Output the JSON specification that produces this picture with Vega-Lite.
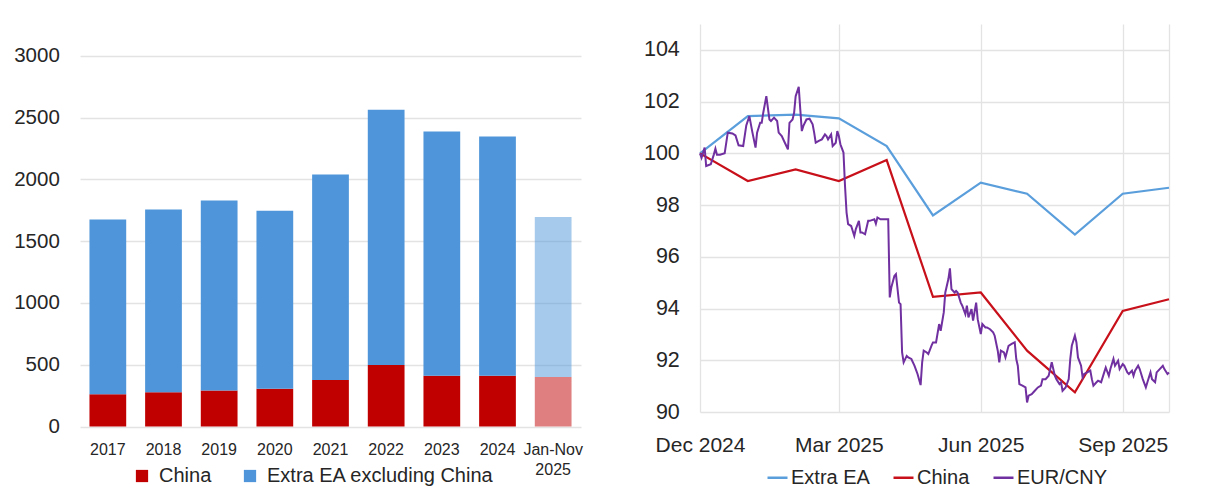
{
  "$schema": "https://vega.github.io/schema/vega-lite/v6.json",
  "background": "white",
  "padding": {"left": 13, "top": 24, "right": 0, "bottom": 0},
  "spacing": 60,
  "resolve": {"scale": {"color": "independent"}, "legend": {"color": "independent"}},
  "config": {
    "view": {"stroke": null},
    "font": "Liberation Sans",
    "axis": {
      "labelColor": "#262626",
      "domain": false,
      "ticks": false,
      "tickSize": 0,
      "gridColor": "#E3E3E3",
      "gridWidth": 1.3,
      "labelFlush": false,
      "labelOverlap": false,
      "title": null
    },
    "legend": {"padding": 0, "labelColor": "#262626", "labelLimit": 400}
  },
  "datasets": {
    "trade": [
      {"period": "2017", "segment": "China", "value": 262},
      {"period": "2017", "segment": "Extra EA excluding China", "value": 1414},
      {"period": "2018", "segment": "China", "value": 278},
      {"period": "2018", "segment": "Extra EA excluding China", "value": 1479},
      {"period": "2019", "segment": "China", "value": 292},
      {"period": "2019", "segment": "Extra EA excluding China", "value": 1538},
      {"period": "2020", "segment": "China", "value": 305},
      {"period": "2020", "segment": "Extra EA excluding China", "value": 1441},
      {"period": "2021", "segment": "China", "value": 376},
      {"period": "2021", "segment": "Extra EA excluding China", "value": 1665},
      {"period": "2022", "segment": "China", "value": 497},
      {"period": "2022", "segment": "Extra EA excluding China", "value": 2068},
      {"period": "2023", "segment": "China", "value": 411},
      {"period": "2023", "segment": "Extra EA excluding China", "value": 1978},
      {"period": "2024", "segment": "China", "value": 411},
      {"period": "2024", "segment": "Extra EA excluding China", "value": 1938},
      {"period": "Jan-Nov 2025", "segment": "China", "value": 400},
      {"period": "Jan-Nov 2025", "segment": "Extra EA excluding China", "value": 1297}
    ],
    "monthly": [
      {"d": "2024-12-01", "s": "Extra EA", "v": 100.0},
      {"d": "2025-01-01", "s": "Extra EA", "v": 101.44},
      {"d": "2025-02-01", "s": "Extra EA", "v": 101.5},
      {"d": "2025-03-01", "s": "Extra EA", "v": 101.35},
      {"d": "2025-04-01", "s": "Extra EA", "v": 100.28},
      {"d": "2025-05-01", "s": "Extra EA", "v": 97.6},
      {"d": "2025-06-01", "s": "Extra EA", "v": 98.87},
      {"d": "2025-07-01", "s": "Extra EA", "v": 98.44},
      {"d": "2025-08-01", "s": "Extra EA", "v": 96.86},
      {"d": "2025-09-01", "s": "Extra EA", "v": 98.44},
      {"d": "2025-10-01", "s": "Extra EA", "v": 98.67},
      {"d": "2024-12-01", "s": "China", "v": 100.0},
      {"d": "2025-01-01", "s": "China", "v": 98.93},
      {"d": "2025-02-01", "s": "China", "v": 99.38},
      {"d": "2025-03-01", "s": "China", "v": 98.93},
      {"d": "2025-04-01", "s": "China", "v": 99.74},
      {"d": "2025-05-01", "s": "China", "v": 94.45},
      {"d": "2025-06-01", "s": "China", "v": 94.62},
      {"d": "2025-07-01", "s": "China", "v": 92.37},
      {"d": "2025-08-01", "s": "China", "v": 90.76},
      {"d": "2025-09-01", "s": "China", "v": 93.91},
      {"d": "2025-10-01", "s": "China", "v": 94.36}
    ],
    "eurcny": [
      {"d": "2024-12-01", "v": 100.0}, {"d": "2024-12-02", "v": 99.83}, {"d": "2024-12-04", "v": 100.22},
      {"d": "2024-12-05", "v": 99.51}, {"d": "2024-12-08", "v": 99.58}, {"d": "2024-12-10", "v": 99.96},
      {"d": "2024-12-11", "v": 100.18}, {"d": "2024-12-12", "v": 99.95}, {"d": "2024-12-14", "v": 99.95},
      {"d": "2024-12-17", "v": 100.0}, {"d": "2024-12-19", "v": 100.8}, {"d": "2024-12-22", "v": 100.77},
      {"d": "2024-12-24", "v": 100.69}, {"d": "2024-12-26", "v": 100.31}, {"d": "2024-12-29", "v": 100.28},
      {"d": "2024-12-31", "v": 101.08}, {"d": "2025-01-02", "v": 101.44}, {"d": "2025-01-04", "v": 100.8},
      {"d": "2025-01-06", "v": 100.22}, {"d": "2025-01-07", "v": 100.8}, {"d": "2025-01-09", "v": 101.18},
      {"d": "2025-01-10", "v": 101.18}, {"d": "2025-01-11", "v": 101.57}, {"d": "2025-01-13", "v": 102.21},
      {"d": "2025-01-15", "v": 101.31}, {"d": "2025-01-16", "v": 101.25}, {"d": "2025-01-18", "v": 101.38},
      {"d": "2025-01-20", "v": 101.25}, {"d": "2025-01-21", "v": 100.8}, {"d": "2025-01-23", "v": 100.67},
      {"d": "2025-01-25", "v": 100.41}, {"d": "2025-01-27", "v": 100.15}, {"d": "2025-01-28", "v": 101.18},
      {"d": "2025-01-30", "v": 101.31}, {"d": "2025-01-31", "v": 101.57}, {"d": "2025-02-01", "v": 102.21},
      {"d": "2025-02-03", "v": 102.57}, {"d": "2025-02-04", "v": 101.7}, {"d": "2025-02-05", "v": 100.86},
      {"d": "2025-02-06", "v": 101.06}, {"d": "2025-02-08", "v": 101.31}, {"d": "2025-02-10", "v": 101.34},
      {"d": "2025-02-12", "v": 101.12}, {"d": "2025-02-13", "v": 100.8}, {"d": "2025-02-14", "v": 100.41},
      {"d": "2025-02-16", "v": 100.48}, {"d": "2025-02-18", "v": 100.54}, {"d": "2025-02-20", "v": 100.73},
      {"d": "2025-02-21", "v": 100.67}, {"d": "2025-02-22", "v": 100.54}, {"d": "2025-02-24", "v": 100.73},
      {"d": "2025-02-25", "v": 100.28}, {"d": "2025-02-27", "v": 100.41}, {"d": "2025-02-28", "v": 100.86},
      {"d": "2025-03-01", "v": 100.67}, {"d": "2025-03-02", "v": 100.35}, {"d": "2025-03-04", "v": 100.03},
      {"d": "2025-03-05", "v": 98.74}, {"d": "2025-03-06", "v": 97.71}, {"d": "2025-03-07", "v": 97.26},
      {"d": "2025-03-09", "v": 97.19}, {"d": "2025-03-10", "v": 97.0}, {"d": "2025-03-11", "v": 96.81},
      {"d": "2025-03-12", "v": 97.07}, {"d": "2025-03-14", "v": 97.39}, {"d": "2025-03-15", "v": 96.94},
      {"d": "2025-03-16", "v": 96.94}, {"d": "2025-03-18", "v": 96.87}, {"d": "2025-03-20", "v": 97.39},
      {"d": "2025-03-21", "v": 97.39}, {"d": "2025-03-24", "v": 97.45}, {"d": "2025-03-25", "v": 97.28},
      {"d": "2025-03-26", "v": 97.52}, {"d": "2025-03-28", "v": 97.45}, {"d": "2025-03-31", "v": 97.45},
      {"d": "2025-04-02", "v": 97.45}, {"d": "2025-04-03", "v": 94.43}, {"d": "2025-04-04", "v": 94.81},
      {"d": "2025-04-06", "v": 95.26}, {"d": "2025-04-07", "v": 95.33}, {"d": "2025-04-09", "v": 94.23},
      {"d": "2025-04-10", "v": 94.17}, {"d": "2025-04-11", "v": 92.3}, {"d": "2025-04-12", "v": 91.92},
      {"d": "2025-04-14", "v": 92.17}, {"d": "2025-04-15", "v": 92.11}, {"d": "2025-04-17", "v": 92.05},
      {"d": "2025-04-19", "v": 91.79}, {"d": "2025-04-21", "v": 91.47}, {"d": "2025-04-23", "v": 91.04},
      {"d": "2025-04-24", "v": 91.92}, {"d": "2025-04-25", "v": 92.37}, {"d": "2025-04-27", "v": 92.3},
      {"d": "2025-04-28", "v": 92.24}, {"d": "2025-04-30", "v": 92.56}, {"d": "2025-05-01", "v": 92.69},
      {"d": "2025-05-03", "v": 92.69}, {"d": "2025-05-05", "v": 93.4}, {"d": "2025-05-06", "v": 93.14},
      {"d": "2025-05-08", "v": 93.85}, {"d": "2025-05-09", "v": 94.62}, {"d": "2025-05-11", "v": 95.14},
      {"d": "2025-05-12", "v": 95.55}, {"d": "2025-05-13", "v": 94.75}, {"d": "2025-05-15", "v": 94.62},
      {"d": "2025-05-16", "v": 94.68}, {"d": "2025-05-17", "v": 94.62}, {"d": "2025-05-19", "v": 94.23},
      {"d": "2025-05-20", "v": 94.11}, {"d": "2025-05-22", "v": 93.78}, {"d": "2025-05-23", "v": 94.11},
      {"d": "2025-05-24", "v": 93.66}, {"d": "2025-05-26", "v": 93.98}, {"d": "2025-05-27", "v": 93.53},
      {"d": "2025-05-29", "v": 94.23}, {"d": "2025-05-30", "v": 93.59}, {"d": "2025-06-01", "v": 93.01},
      {"d": "2025-06-02", "v": 93.4}, {"d": "2025-06-04", "v": 93.27}, {"d": "2025-06-05", "v": 93.27},
      {"d": "2025-06-07", "v": 93.2}, {"d": "2025-06-09", "v": 93.08}, {"d": "2025-06-10", "v": 92.95},
      {"d": "2025-06-12", "v": 92.37}, {"d": "2025-06-13", "v": 91.92}, {"d": "2025-06-14", "v": 92.37},
      {"d": "2025-06-16", "v": 92.3}, {"d": "2025-06-17", "v": 92.11}, {"d": "2025-06-19", "v": 92.56},
      {"d": "2025-06-21", "v": 92.63}, {"d": "2025-06-23", "v": 92.69}, {"d": "2025-06-24", "v": 92.05},
      {"d": "2025-06-25", "v": 91.79}, {"d": "2025-06-26", "v": 91.08}, {"d": "2025-06-28", "v": 91.02},
      {"d": "2025-06-30", "v": 90.95}, {"d": "2025-07-01", "v": 90.37}, {"d": "2025-07-02", "v": 90.63},
      {"d": "2025-07-04", "v": 90.69}, {"d": "2025-07-06", "v": 90.82}, {"d": "2025-07-08", "v": 90.95},
      {"d": "2025-07-10", "v": 91.02}, {"d": "2025-07-11", "v": 91.27}, {"d": "2025-07-13", "v": 91.27},
      {"d": "2025-07-15", "v": 91.4}, {"d": "2025-07-16", "v": 91.66}, {"d": "2025-07-17", "v": 91.92},
      {"d": "2025-07-19", "v": 91.4}, {"d": "2025-07-20", "v": 91.27}, {"d": "2025-07-22", "v": 91.08},
      {"d": "2025-07-23", "v": 91.15}, {"d": "2025-07-24", "v": 90.82}, {"d": "2025-07-26", "v": 90.95},
      {"d": "2025-07-28", "v": 91.27}, {"d": "2025-07-29", "v": 92.05}, {"d": "2025-07-30", "v": 92.56},
      {"d": "2025-08-01", "v": 92.95}, {"d": "2025-08-02", "v": 92.69}, {"d": "2025-08-03", "v": 92.11},
      {"d": "2025-08-05", "v": 91.79}, {"d": "2025-08-06", "v": 91.34}, {"d": "2025-08-07", "v": 91.47},
      {"d": "2025-08-09", "v": 91.53}, {"d": "2025-08-11", "v": 91.6}, {"d": "2025-08-12", "v": 91.27},
      {"d": "2025-08-13", "v": 91.02}, {"d": "2025-08-15", "v": 91.15}, {"d": "2025-08-16", "v": 91.21},
      {"d": "2025-08-18", "v": 91.15}, {"d": "2025-08-20", "v": 91.53}, {"d": "2025-08-21", "v": 91.72},
      {"d": "2025-08-23", "v": 91.4}, {"d": "2025-08-24", "v": 91.66}, {"d": "2025-08-26", "v": 92.05},
      {"d": "2025-08-27", "v": 91.79}, {"d": "2025-08-29", "v": 91.98}, {"d": "2025-08-30", "v": 91.66},
      {"d": "2025-09-01", "v": 91.85}, {"d": "2025-09-02", "v": 91.79}, {"d": "2025-09-04", "v": 91.53},
      {"d": "2025-09-05", "v": 91.47}, {"d": "2025-09-07", "v": 91.6}, {"d": "2025-09-08", "v": 91.4},
      {"d": "2025-09-09", "v": 91.6}, {"d": "2025-09-11", "v": 91.79}, {"d": "2025-09-12", "v": 91.66},
      {"d": "2025-09-14", "v": 91.27}, {"d": "2025-09-16", "v": 90.95}, {"d": "2025-09-17", "v": 91.15},
      {"d": "2025-09-19", "v": 91.53}, {"d": "2025-09-20", "v": 91.27}, {"d": "2025-09-22", "v": 91.15},
      {"d": "2025-09-23", "v": 91.53}, {"d": "2025-09-25", "v": 91.66}, {"d": "2025-09-27", "v": 91.79},
      {"d": "2025-09-28", "v": 91.66}, {"d": "2025-09-30", "v": 91.47}, {"d": "2025-10-01", "v": 91.53}
    ]
  },
  "hconcat": [
    {
      "width": 501,
      "height": 402.5,
      "data": {"name": "trade"},
      "mark": {"type": "bar"},
      "encoding": {
        "x": {
          "field": "period",
          "type": "nominal",
          "sort": null,
          "scale": {"paddingInner": 0.34, "paddingOuter": 0.17},
          "axis": {
            "labelAngle": 0,
            "labelFontSize": 16,
            "labelPadding": 14.5,
            "labelLineHeight": 20,
            "grid": false,
            "labelExpr": "datum.value == 'Jan-Nov 2025' ? ['Jan-Nov', '2025'] : datum.label"
          }
        },
        "y": {
          "field": "value",
          "type": "quantitative",
          "stack": "zero",
          "scale": {"domain": [0, 3259], "nice": false},
          "axis": {
            "values": [0, 500, 1000, 1500, 2000, 2500, 3000],
            "format": "d",
            "labelFontSize": 20.5,
            "labelPadding": 20.7,
            "grid": true
          }
        },
        "color": {
          "field": "segment",
          "type": "nominal",
          "scale": {"domain": ["China", "Extra EA excluding China"], "range": ["#C00000", "#4E95D9"]},
          "legend": {
            "title": null,
            "orient": "none",
            "legendX": 52,
            "legendY": 442,
            "direction": "horizontal",
            "symbolType": "square",
            "symbolSize": 150,
            "symbolOpacity": 1,
            "labelFontSize": 20,
            "labelOffset": 7,
            "columnPadding": 28
          }
        },
        "order": {"field": "segment", "sort": "ascending"},
        "opacity": {
          "condition": {"test": "datum.period == 'Jan-Nov 2025'", "value": 0.5},
          "value": 1
        }
      }
    },
    {
      "width": 469,
      "height": 388,
      "layer": [
        {
          "mark": {"type": "rule", "color": "#E3E3E3", "strokeWidth": 1.3},
          "encoding": {"y": {"datum": 105, "type": "quantitative"}}
        },
        {
          "data": {"name": "monthly"},
          "mark": {"type": "line", "strokeWidth": 2.2},
          "encoding": {
            "x": {
              "field": "d",
              "type": "temporal",
              "scale": {
                "type": "utc",
                "domain": [
                  {"year": 2024, "month": 12, "date": 1, "utc": true},
                  {"year": 2025, "month": 10, "date": 1, "utc": true}
                ]
              },
              "axis": {
                "values": [
                  {"year": 2024, "month": 12, "date": 1, "utc": true},
                  {"year": 2025, "month": 3, "date": 1, "utc": true},
                  {"year": 2025, "month": 6, "date": 1, "utc": true},
                  {"year": 2025, "month": 9, "date": 1, "utc": true},
                  {"year": 2025, "month": 10, "date": 1, "utc": true}
                ],
                "labelExpr": "utcmonth(datum.value) == 9 ? '' : utcFormat(datum.value, '%b %Y')",
                "labelFontSize": 21,
                "labelPadding": 22.7,
                "grid": true
              }
            },
            "y": {
              "field": "v",
              "type": "quantitative",
              "scale": {"domain": [90, 105], "nice": false, "zero": false},
              "axis": {
                "values": [90, 92, 94, 96, 98, 100, 102, 104],
                "labelFontSize": 21.5,
                "labelPadding": 20.7,
                "grid": true
              }
            },
            "color": {
              "field": "s",
              "type": "nominal",
              "scale": {"domain": ["Extra EA", "China", "EUR/CNY"], "range": ["#5A9EDC", "#C8101A", "#7030A0"]},
              "legend": {
                "title": null,
                "orient": "none",
                "legendX": 66,
                "legendY": 442,
                "direction": "horizontal",
                "symbolType": "stroke",
                "symbolSize": 400,
                "symbolStrokeWidth": 2.5,
                "labelFontSize": 20,
                "labelOffset": 2,
                "columnPadding": 18
              }
            }
          }
        },
        {
          "data": {"name": "eurcny"},
          "mark": {"type": "line", "strokeWidth": 2},
          "encoding": {
            "x": {"field": "d", "type": "temporal"},
            "y": {"field": "v", "type": "quantitative"},
            "color": {"datum": "EUR/CNY", "type": "nominal"}
          }
        }
      ]
    }
  ]
}
